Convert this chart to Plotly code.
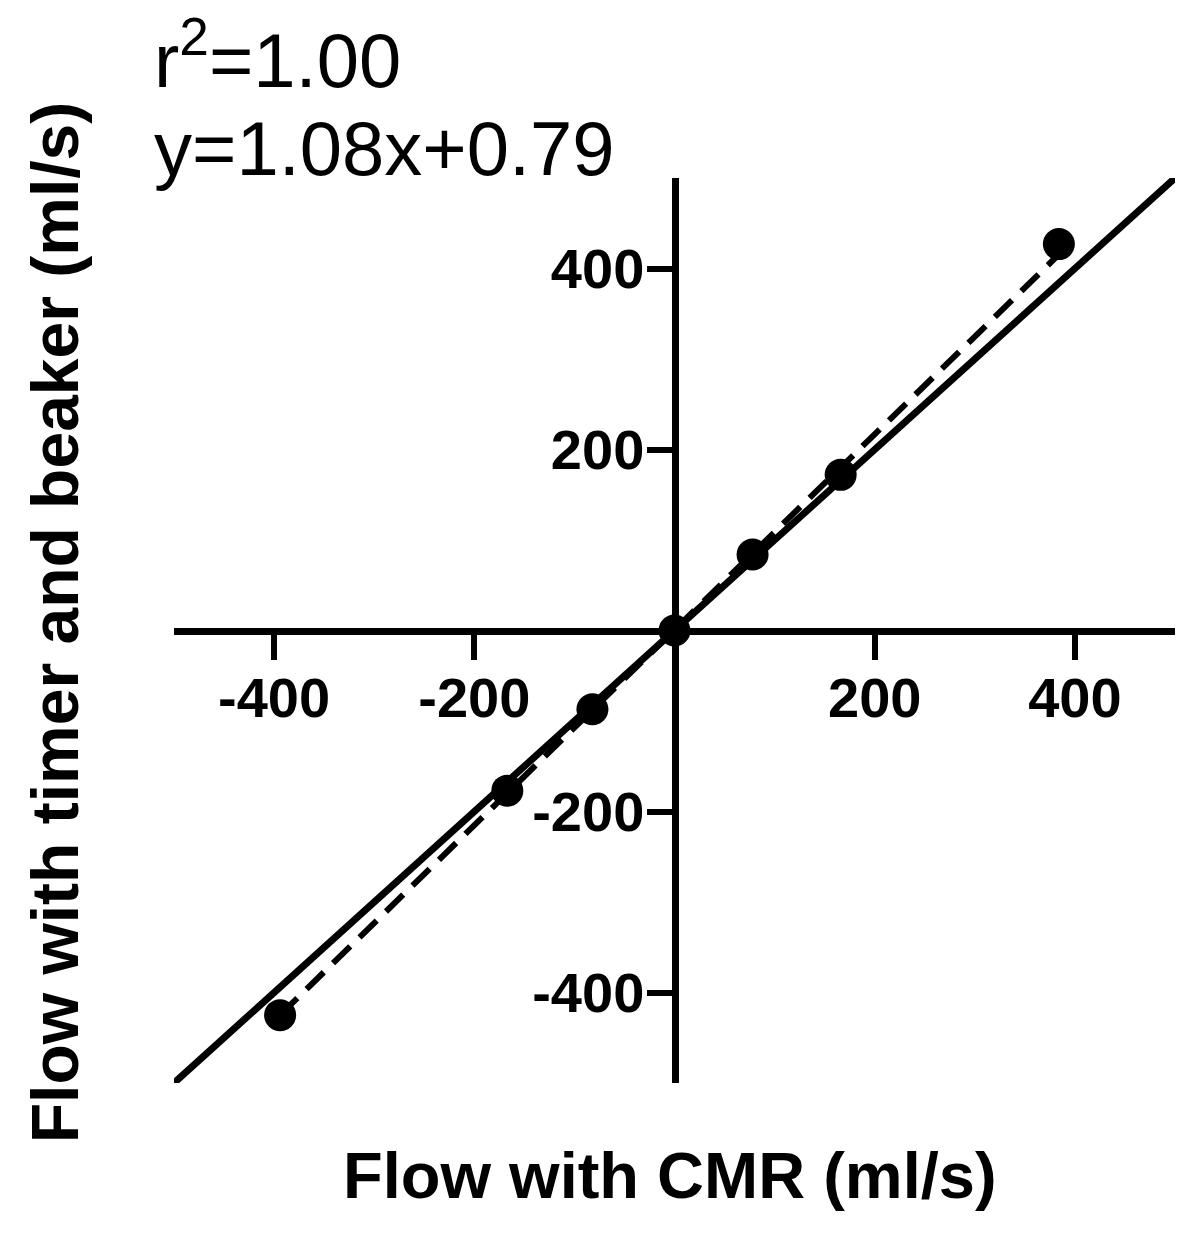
import plotly.graph_objects as go

cmr_flow = [-394, -167, -82, 0, 78, 166, 384]
beaker_flow = [-425, -177, -87, 0, 84, 172, 427]

# linear fit reported on the figure
slope = 1.08
intercept = 0.79
fit_x = [min(cmr_flow), max(cmr_flow)]
fit_y = [slope * v + intercept for v in fit_x]

# line of identity
ident = [-500, 500]

tick_vals = [-400, -200, 200, 400]
tick_text = ["-400", "-200", "200", "400"]

FONT = "Liberation Sans, Arial, sans-serif"

fig = go.Figure()

fig.add_trace(go.Scatter(
    x=ident, y=ident, mode="lines",
    line=dict(color="black", width=7),
    hoverinfo="skip", showlegend=False,
))
fig.add_trace(go.Scatter(
    x=fit_x, y=fit_y, mode="lines",
    line=dict(color="black", width=6, dash="24px,13px"),
    hoverinfo="skip", showlegend=False,
))
fig.add_trace(go.Scatter(
    x=cmr_flow, y=beaker_flow, mode="markers",
    marker=dict(color="black", size=32),
    showlegend=False,
))

axis_common = dict(
    range=[-500, 500],
    showgrid=False,
    zeroline=False,
    showline=True,
    linecolor="black",
    linewidth=7,
    ticks="outside",
    ticklen=25,
    tickwidth=6,
    tickcolor="black",
    tickvals=tick_vals,
    ticktext=tick_text,
    tickfont=dict(family=FONT, size=56, color="black", weight="bold"),
    anchor="free",
    position=0.5,
)

# the page body adds an 8px offset, so margins are trimmed by that much
fig.update_layout(
    width=1200,
    height=1234,
    paper_bgcolor="white",
    plot_bgcolor="white",
    margin=dict(l=166, r=33, t=170, b=159),
    xaxis=dict(**axis_common, ticklabelstandoff=-10),
    yaxis=dict(**axis_common, ticklabelstandoff=-9),
    annotations=[
        dict(text="r<sup>2</sup>=1.00", xref="paper", yref="paper",
             x=-0.022, y=1.136, xanchor="left", yanchor="middle",
             showarrow=False, font=dict(family=FONT, size=76, color="black")),
        dict(text="y=1.08x+0.79", xref="paper", yref="paper",
             x=-0.022, y=1.033, xanchor="left", yanchor="middle",
             showarrow=False, font=dict(family=FONT, size=76, color="black")),
        dict(text="<b>Flow with CMR (ml/s)</b>", xref="paper", yref="paper",
             x=0.4955, y=-0.102, xanchor="center", yanchor="middle",
             showarrow=False, font=dict(family=FONT, size=65, color="black")),
        dict(text="<b>Flow with timer and beaker (ml/s)</b>", xref="paper", yref="paper",
             x=-0.119, y=0.509, xanchor="center", yanchor="middle", textangle=-90,
             showarrow=False, font=dict(family=FONT, size=66, color="black")),
    ],
)

fig.write_html("out.html")
